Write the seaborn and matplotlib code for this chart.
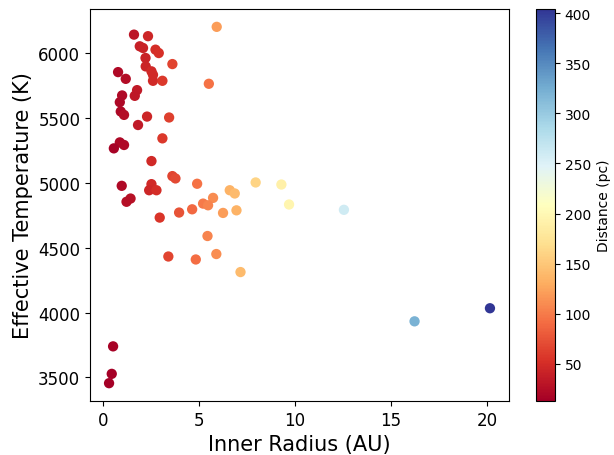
import matplotlib
matplotlib.use("Agg")
import matplotlib.pyplot as plt
import seaborn as sns
import pandas as pd

# inner radius (AU), effective temperature (K), distance (pc)
inner_radius = [
    1.61, 2.34, 1.91, 2.08, 2.73, 2.90, 2.21, 3.61, 2.22, 2.52,
    2.60, 2.60, 3.09, 0.78, 1.18, 5.51, 1.77, 1.65, 0.99, 0.87,
    0.92, 1.09, 2.29, 3.44, 1.82, 3.09, 0.87, 1.09, 0.56, 2.52,
    3.61, 3.77, 4.90, 0.97, 2.52, 2.40, 2.78, 6.60, 6.86, 1.43,
    1.22, 5.73, 5.21, 5.47, 4.64, 3.96, 6.25, 6.95, 2.95, 5.92,
    7.95, 9.29, 9.69, 5.44, 3.40, 4.83, 5.90, 7.16, 12.55, 16.23,
    20.16, 0.52, 0.45, 0.31,
]
teff = [
    6144, 6132, 6054, 6041, 6028, 6002, 5964, 5917, 5899, 5861,
    5834, 5788, 5788, 5855, 5803, 5765, 5716, 5672, 5675, 5623,
    5551, 5525, 5512, 5505, 5447, 5344, 5313, 5293, 5267, 5169,
    5053, 5035, 4994, 4978, 4991, 4944, 4944, 4944, 4919, 4880,
    4855, 4885, 4841, 4828, 4797, 4772, 4769, 4789, 4733, 6204,
    5004, 4988, 4834, 4591, 4433, 4410, 4452, 4313, 4793, 3933,
    4034, 3740, 3528, 3456,
]
distance = [
    30, 45, 40, 42, 50, 52, 42, 65, 43, 47,
    48, 48, 58, 22, 25, 95, 35, 33, 22, 20,
    20, 24, 45, 62, 35, 58, 20, 22, 15, 47,
    65, 68, 95, 22, 47, 45, 50, 135, 140, 28,
    26, 110, 100, 105, 88, 75, 120, 135, 55, 120,
    160, 190, 195, 105, 65, 92, 112, 140, 260, 320,
    404, 15, 14, 13,
]

df = pd.DataFrame({"r": inner_radius, "t": teff, "d": distance})
norm = plt.Normalize(min(distance), max(distance))

fig = plt.figure(figsize=(6.14, 4.56), dpi=100)
ax = fig.add_axes([0.1466, 0.1184, 0.6824, 0.8596])
cax = fig.add_axes([0.873, 0.1184, 0.031, 0.8596])

sns.scatterplot(data=df, x="r", y="t", hue="d", palette="RdYlBu",
                hue_norm=norm, s=55, linewidth=0, legend=False, ax=ax)

ax.set_xlabel("Inner Radius (AU)", fontsize=15)
ax.set_ylabel("Effective Temperature (K)", fontsize=15)
ax.tick_params(labelsize=12)

sm = plt.cm.ScalarMappable(cmap="RdYlBu", norm=norm)
cb = fig.colorbar(sm, cax=cax)
cb.set_label("Distance (pc)", fontsize=10)
cb.ax.tick_params(labelsize=10)

fig.savefig("out.png", dpi=100)
